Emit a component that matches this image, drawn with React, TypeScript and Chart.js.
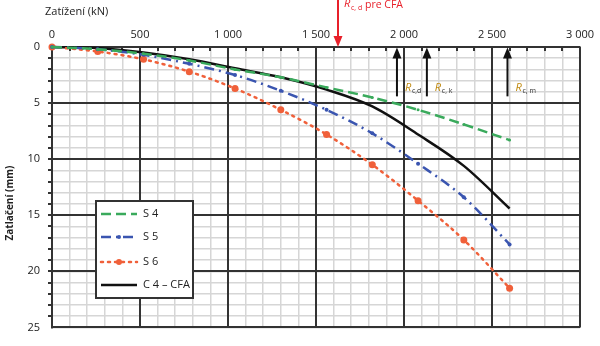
import React, { useEffect, useRef } from "react";
import { Chart, registerables } from "chart.js";

Chart.register(...registerables);

const loads = [0, 260, 520, 780, 1040, 1300, 1560, 1820, 2080, 2340, 2600];
const s4 = [0, 0.2, 0.6, 1.2, 2.0, 2.7, 3.6, 4.5, 5.6, 6.9, 8.3];
const s5 = [0, 0.2, 0.7, 1.5, 2.5, 3.9, 5.6, 7.7, 10.4, 13.4, 17.6];
const s6 = [0, 0.4, 1.1, 2.2, 3.7, 5.6, 7.8, 10.5, 13.7, 17.2, 21.5];
const c4 = [0, 0.1, 0.5, 1.1, 1.9, 2.7, 3.8, 5.3, 7.8, 10.6, 14.4];

const seriesNames = ["S 4", "S 5", "S 6", "C 4 – CFA"];
const xTitle = "Zatížení (kN)";
const yTitle = "Zatlačení (mm)";

const blackArrowX = [1960, 2130, 2588];
const blackArrowSub = ["c,d", "c, k", "c, m"];
const redArrowX = 1625;

const COLORS = ["#3aaa5c", "#3a55b0", "#f0603a", "#111111"];
const DASHES = [[10, 5], [10, 5, 2, 5], [2, 5], []];

function fmt(v: number): string {
  if (v >= 1000) return `${Math.floor(v / 1000)} ${String(v % 1000).padStart(3, "0")}`;
  return String(v);
}

const majorGrid = {
  id: "majorGrid",
  beforeDatasetsDraw(chart: any) {
    const ctx = chart.ctx as CanvasRenderingContext2D;
    const xs = chart.scales.x;
    const ys = chart.scales.y;
    const a = chart.chartArea;
    ctx.save();
    ctx.setLineDash([]);
    ctx.strokeStyle = "#333";
    ctx.lineWidth = 2;
    for (let v = 0; v <= 3000; v += 500) {
      const px = Math.round(xs.getPixelForValue(v));
      ctx.beginPath();
      ctx.moveTo(px, a.top);
      ctx.lineTo(px, a.bottom);
      ctx.stroke();
    }
    for (let v = 0; v <= 25; v += 5) {
      const py = Math.round(ys.getPixelForValue(v));
      ctx.beginPath();
      ctx.moveTo(a.left, py);
      ctx.lineTo(a.right, py);
      ctx.stroke();
    }
    // tick marks
    for (let v = 100; v < 3000; v += 100) {
      const px = Math.round(xs.getPixelForValue(v));
      ctx.beginPath();
      ctx.moveTo(px, a.top);
      ctx.lineTo(px, a.top + 4);
      ctx.stroke();
    }
    for (let v = 1; v < 25; v += 1) {
      const py = Math.round(ys.getPixelForValue(v));
      ctx.beginPath();
      ctx.moveTo(a.left - 4, py);
      ctx.lineTo(a.left, py);
      ctx.stroke();
    }
    ctx.restore();
  },
};

const overlay = {
  id: "overlay",
  afterDraw(chart: any) {
    const ctx = chart.ctx as CanvasRenderingContext2D;
    const xs = chart.scales.x;
    const ys = chart.scales.y;
    const area = chart.chartArea;
    ctx.save();

    // titles
    ctx.fillStyle = "#222";
    ctx.font = "11px 'Open Sans', sans-serif";
    ctx.textAlign = "left";
    ctx.textBaseline = "middle";
    ctx.fillText(xTitle, 45, 12);
    ctx.save();
    ctx.translate(10, 203);
    ctx.rotate(-Math.PI / 2);
    ctx.textAlign = "center";
    ctx.font = "bold 10px 'Open Sans', sans-serif";
    ctx.fillText(yTitle, 0, 0);
    ctx.restore();

    // black arrows
    const yFrom = ys.getPixelForValue(4.4);
    const yTo = ys.getPixelForValue(0.05);
    blackArrowX.forEach((xv, i) => {
      const px = xs.getPixelForValue(xv);
      ctx.strokeStyle = "#111";
      ctx.fillStyle = "#111";
      ctx.lineWidth = 2;
      ctx.beginPath();
      ctx.moveTo(px, yFrom);
      ctx.lineTo(px, yTo + 9);
      ctx.stroke();
      ctx.beginPath();
      ctx.moveTo(px, yTo);
      ctx.lineTo(px - 4.5, yTo + 11);
      ctx.lineTo(px + 4.5, yTo + 11);
      ctx.closePath();
      ctx.fill();
      const ly = ys.getPixelForValue(3.6);
      ctx.font = "italic 11px 'Open Sans', sans-serif";
      ctx.fillStyle = "#c08a10";
      ctx.textAlign = "left";
      ctx.fillText("R", px + 8, ly);
      ctx.font = "7px 'Open Sans', sans-serif";
      ctx.fillStyle = "#333";
      ctx.fillText(blackArrowSub[i], px + 15, ly + 4);
    });

    // red arrow
    const rx = xs.getPixelForValue(redArrowX);
    ctx.strokeStyle = "#e8202a";
    ctx.fillStyle = "#e8202a";
    ctx.lineWidth = 2;
    ctx.beginPath();
    ctx.moveTo(rx, 0);
    ctx.lineTo(rx, area.top - 9);
    ctx.stroke();
    ctx.beginPath();
    ctx.moveTo(rx, area.top);
    ctx.lineTo(rx - 4.5, area.top - 11);
    ctx.lineTo(rx + 4.5, area.top - 11);
    ctx.closePath();
    ctx.fill();
    ctx.textAlign = "left";
    ctx.font = "italic 11px 'Open Sans', sans-serif";
    ctx.fillText("R", rx + 6, 4);
    ctx.font = "7px 'Open Sans', sans-serif";
    ctx.fillText("c, d", rx + 13, 8);
    ctx.font = "10.5px 'Open Sans', sans-serif";
    ctx.fillText("pre CFA", rx + 27, 5);

    // legend
    const bx = 96, by = 201, bw = 97, bh = 97;
    ctx.fillStyle = "#fff";
    ctx.fillRect(bx, by, bw, bh);
    ctx.strokeStyle = "#333";
    ctx.lineWidth = 2;
    ctx.strokeRect(bx, by, bw, bh);
    const rows = [214, 237, 262, 285];
    rows.forEach((ry, i) => {
      ctx.strokeStyle = COLORS[i];
      ctx.fillStyle = COLORS[i];
      ctx.lineWidth = 2.5;
      ctx.lineCap = i === 2 ? "round" : "butt";
      ctx.setLineDash(DASHES[i]);
      ctx.beginPath();
      ctx.moveTo(101, ry);
      ctx.lineTo(137, ry);
      ctx.stroke();
      ctx.setLineDash([]);
      if (i === 1 || i === 2) {
        ctx.beginPath();
        ctx.arc(119, ry, i === 2 ? 3 : 2, 0, Math.PI * 2);
        ctx.fill();
      }
      ctx.fillStyle = "#222";
      ctx.font = "11px 'Open Sans', sans-serif";
      ctx.textAlign = "left";
      ctx.fillText(seriesNames[i], 143, ry);
    });
    ctx.restore();
  },
};

export default function App() {
  const ref = useRef<HTMLCanvasElement | null>(null);
  useEffect(() => {
    document.body.style.margin = "0";
    Chart.defaults.font.family = "'Open Sans', sans-serif";
    const mk = (arr: number[]) => loads.map((x, i) => ({ x, y: arr[i] }));
    const all = [s4, s5, s6, c4];
    const chart = new Chart(ref.current as HTMLCanvasElement, {
      type: "line",
      data: {
        datasets: all.map((arr, i) => ({
          label: seriesNames[i],
          data: mk(arr),
          borderColor: COLORS[i],
          backgroundColor: COLORS[i],
          borderWidth: 2.5,
          borderDash: DASHES[i],
          borderCapStyle: i === 2 ? "round" : "butt",
          pointRadius: [1.5, 2, 3.5, 0][i],
          pointBorderWidth: 0,
          cubicInterpolationMode: "monotone",
          clip: false,
        })) as any,
      },
      options: {
        animation: false,
        responsive: false,
        layout: { padding: { left: 0, right: 17, top: 0, bottom: 12 } },
        plugins: { legend: { display: false }, tooltip: { enabled: false } },
        scales: {
          x: {
            type: "linear",
            position: "top",
            min: 0,
            max: 3000,
            afterFit: (s: any) => { s.height = 47; },
            ticks: {
              stepSize: 100,
              autoSkip: false,
              maxRotation: 0,
              padding: 6,
              color: "#222",
              font: { size: 11 },
              callback: (v: any) => (Number(v) % 500 === 0 ? fmt(Number(v)) : ""),
            },
            grid: {
              drawTicks: false,
              color: "#d6d6d6",
              lineWidth: 1.5,
            },
            border: { display: true, color: "#333", width: 2 },
          },
          y: {
            type: "linear",
            reverse: true,
            min: 0,
            max: 25,
            afterFit: (s: any) => { s.width = 52; },
            ticks: {
              stepSize: 1,
              autoSkip: false,
              padding: 12,
              color: "#222",
              font: { size: 11 },
              callback: (v: any) => (Number(v) % 5 === 0 ? String(v) : ""),
            },
            grid: {
              drawTicks: false,
              color: "#d6d6d6",
              lineWidth: 1.5,
            },
            border: { display: true, color: "#333", width: 2 },
          },
        },
      },
      plugins: [majorGrid, overlay],
    });
    return () => chart.destroy();
  }, []);
  return (
    <div style={{ width: 600, height: 346, background: "#fff" }}>
      <canvas ref={ref} width={600} height={346} />
    </div>
  );
}
